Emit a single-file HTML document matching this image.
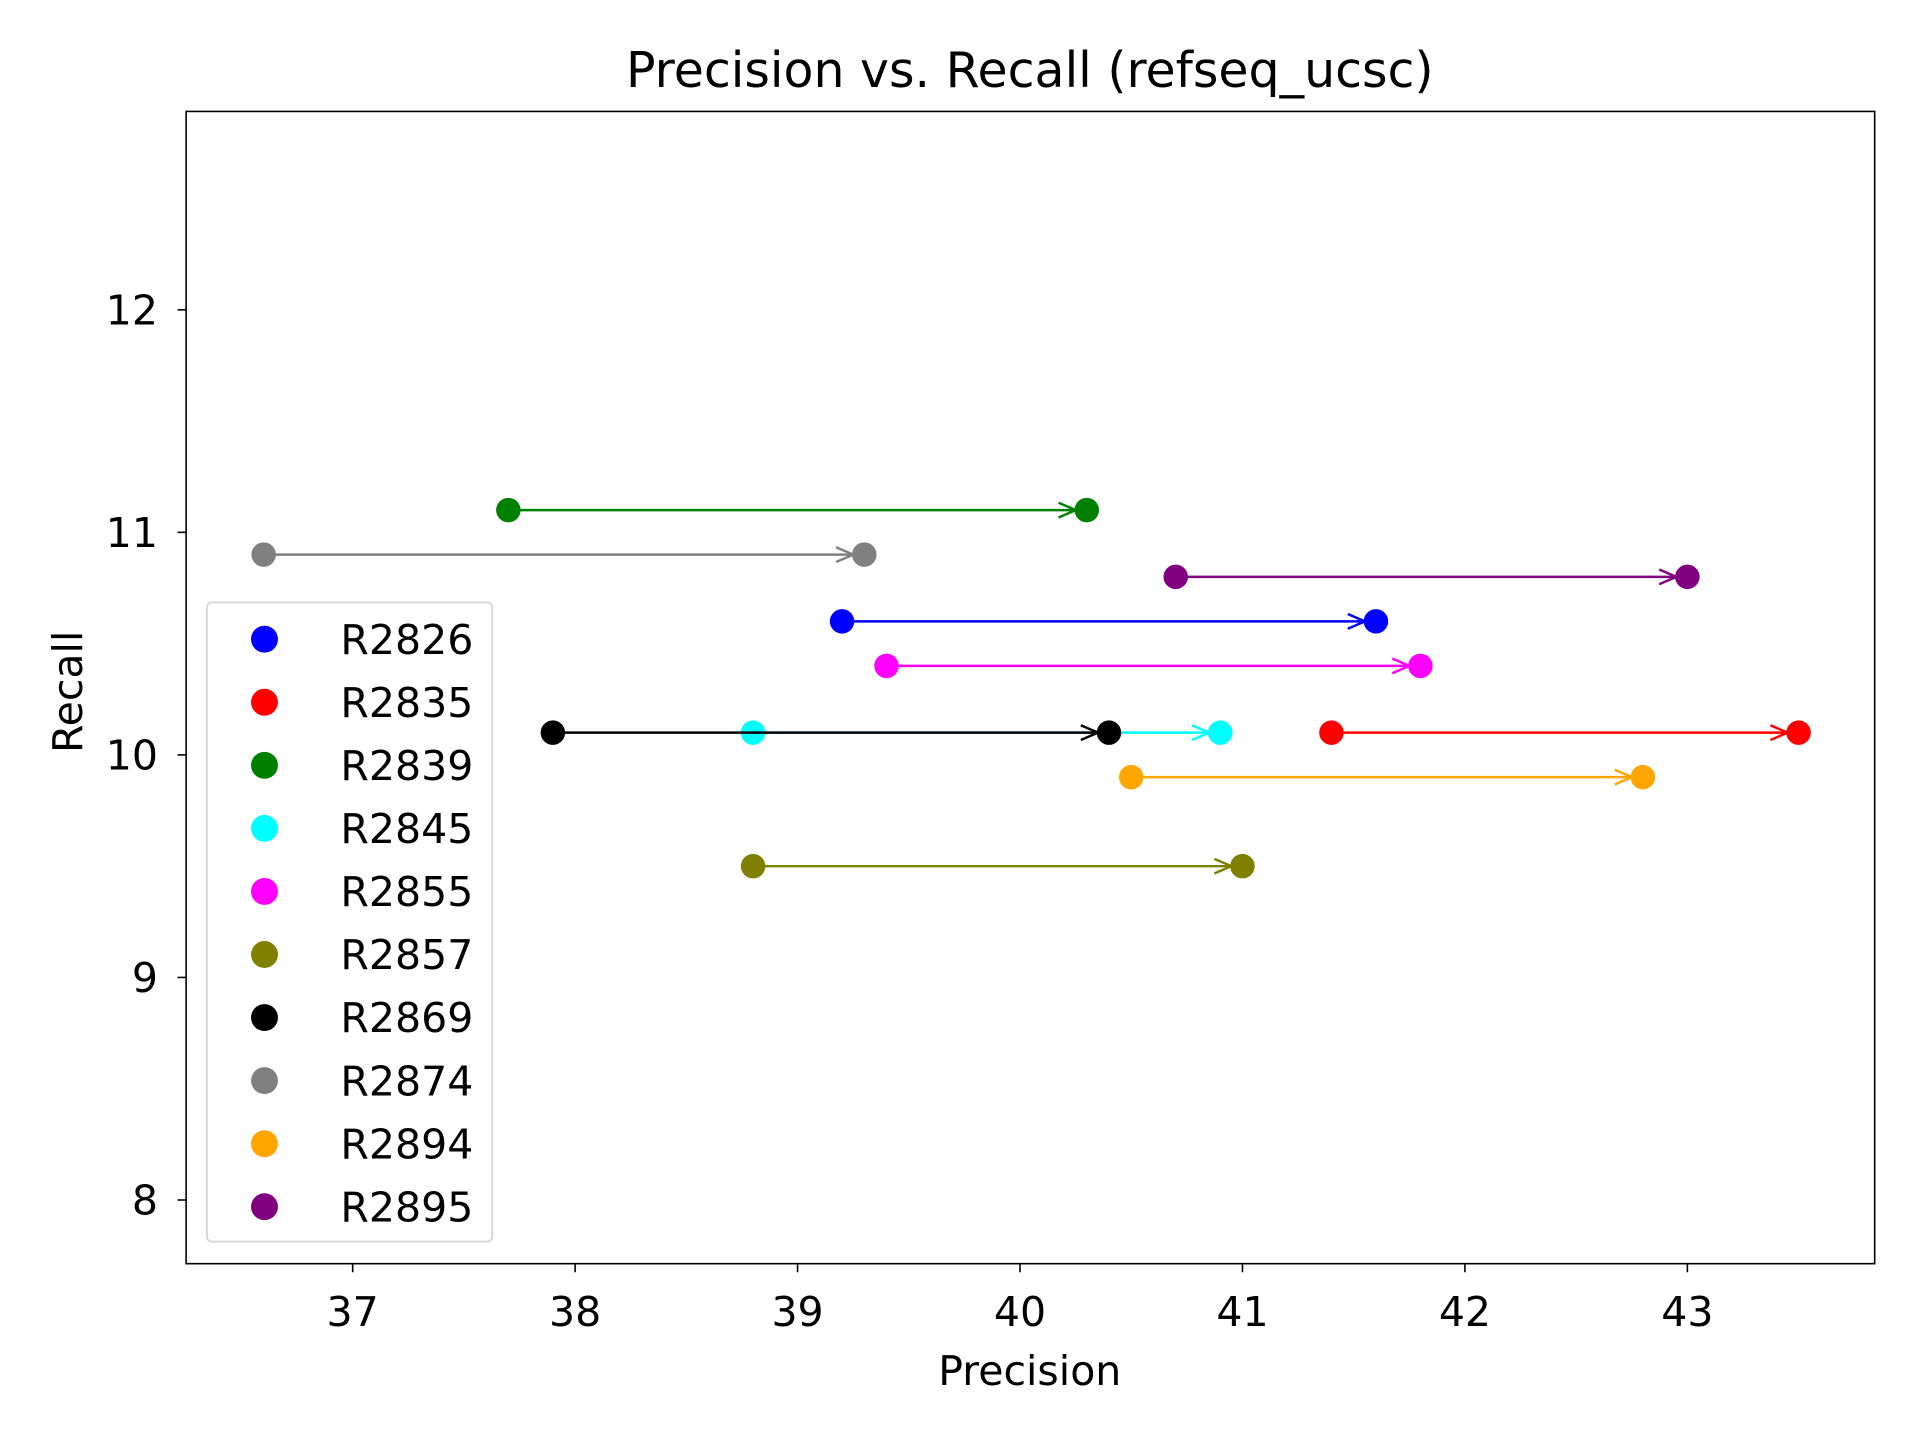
<!DOCTYPE html>
<html><head><meta charset="utf-8"><style>html,body{margin:0;padding:0;background:#fff}svg{display:block}text{font-family:"DejaVu Sans","Liberation Sans",sans-serif;fill:#000}</style></head>
<body>
<svg id="chart" width="1920" height="1440" viewBox="0 0 1568 1176" xmlns="http://www.w3.org/2000/svg">
<rect x="0" y="0" width="1568" height="1176" fill="#fff"/>
<g id="plot"></g>
<rect x="152" y="91" width="1379" height="941" fill="none" stroke="#000" stroke-width="1.3"/>
<text x="841" y="71" font-size="40" text-anchor="middle">Precision vs. Recall (refseq_ucsc)</text>
<text x="841" y="1131" font-size="33.5" text-anchor="middle">Precision</text>
<text transform="translate(67,565) rotate(-90)" font-size="33.5" text-anchor="middle">Recall</text>
<g id="axes"></g>
<g id="legend"></g>
</svg>
<script>
const seriesNames=["R2826","R2835","R2839","R2845","R2855","R2857","R2869","R2874","R2894","R2895"];
const seriesColors=["blue","red","green","cyan","magenta","olive","black","gray","orange","purple"];
const precisionStart=[39.2,41.4,37.7,38.8,39.4,38.8,37.9,36.6,40.5,40.7];
const precisionEnd=[41.6,43.5,40.3,40.9,41.8,41.0,40.4,39.3,42.8,43.0];
const recallValues=[10.6,10.1,11.1,10.1,10.4,9.5,10.1,10.9,9.9,10.8];
const xTicks=[37,38,39,40,41,42,43];
const yTicks=[8,9,10,11,12];
const NS="http://www.w3.org/2000/svg";
function X(v){return 288+(v-37)*181.67;}
function Y(v){return 980-(v-8)*181.75;}
function mk(tag,attrs,parent){const e=document.createElementNS(NS,tag);for(const k in attrs)e.setAttribute(k,attrs[k]);parent.appendChild(e);return e;}
const plot=document.getElementById('plot'),axes=document.getElementById('axes'),legend=document.getElementById('legend');
xTicks.forEach(t=>{
 const l=mk('line',{x1:X(t),x2:X(t),y1:1032,y2:1039,stroke:'#000','stroke-width':1.3},axes);
 
 
 const tx=mk('text',{x:X(t),y:1083,'font-size':33.5,'text-anchor':'middle'},axes);tx.textContent=t;
 
 
});
yTicks.forEach(t=>{
 const l=mk('line',{x1:145,x2:152,y1:Y(t),y2:Y(t),stroke:'#000','stroke-width':1.3},axes);
 
 
 const tx=mk('text',{x:129,y:Y(t)+12,'font-size':33.5,'text-anchor':'end'},axes);tx.textContent=t;
 
 
});
seriesNames.forEach((n,i)=>{
 const c=seriesColors[i],x1=X(precisionStart[i]),x2=X(precisionEnd[i]),y=Y(recallValues[i]);
 const g=mk('g',{},plot);
 
 
 const s=mk('circle',{cx:x1,cy:y,r:10,fill:c},g);
 
 
 const e=mk('circle',{cx:x2,cy:y,r:10,fill:c},g);
 
 
 const tip=x2-9;
 const ln=mk('line',{x1:x1,x2:tip,y1:y,y2:y,stroke:c,'stroke-width':2},g);
 
 
 const hd=mk('polyline',{points:`${tip-14},${y-6} ${tip},${y} ${tip-14},${y+6}`,fill:'none',stroke:c,'stroke-width':2},g);
 
 
});
const box=mk('rect',{x:169,y:492,width:233,height:522,rx:4,fill:'#fff','fill-opacity':0.8,stroke:'#d6d6d6','stroke-width':1.5},legend);


seriesNames.forEach((n,i)=>{
 const y=522+51.5*i;
 const m=mk('circle',{cx:216,cy:y,r:11,fill:seriesColors[i]},legend);
 
 
 const t=mk('text',{x:278,y:y+12,'font-size':33.5},legend);t.textContent=n;
 
 
});
</script>
</body></html>
